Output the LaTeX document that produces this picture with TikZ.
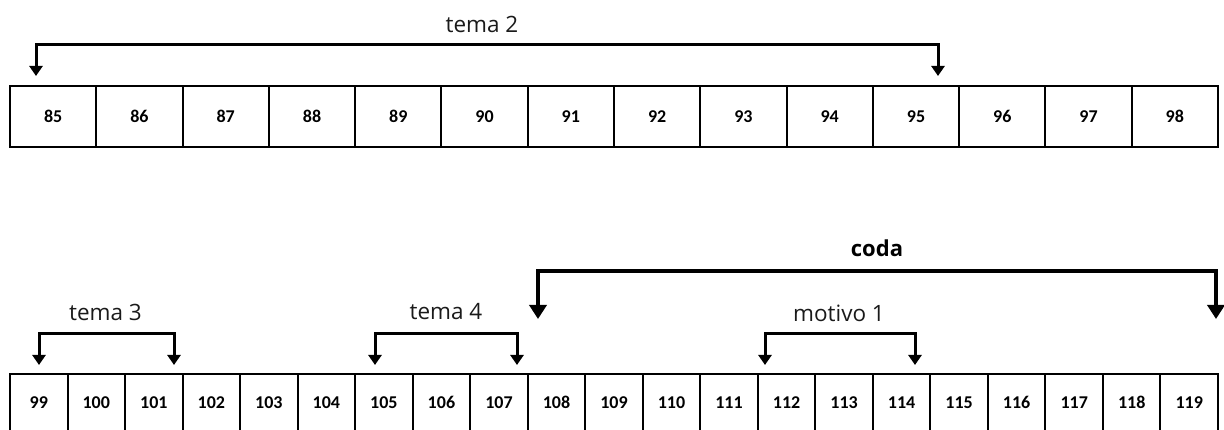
\documentclass[tikz,border=0pt]{standalone}
\usepackage{fontspec}
\setmainfont{Open Sans}
\newfontfamily\numfont{Carlito}[Numbers=Lining]
\usetikzlibrary{arrows.meta,calc}
\definecolor{lbl}{HTML}{1A1A1A}
\tikzset{
  cell/.style={draw=black, line width=2pt, minimum height=#1, inner sep=0pt, outer sep=0pt, text height=11.5pt, text depth=0pt, font=\numfont\bfseries\fontsize{18}{18}\selectfont},
  brk/.style={line width=3pt, {Triangle[width=13pt,length=10pt]}-{Triangle[width=13pt,length=10pt]}},
  bigbrk/.style={line width=3.6pt, {Triangle[width=17pt,length=14pt]}-{Triangle[width=17pt,length=14pt]}},
  lab/.style={anchor=base, text=lbl, inner sep=0pt, font=\fontsize{22.5}{22.5}\selectfont},
}
\begin{document}
\begin{tikzpicture}[x=1pt,y=-1pt]
\useasboundingbox (0,0) rectangle (1224,430);
\clip (0,0) rectangle (1224,430);
% top row 85..98
\foreach \i in {0,...,13}{
  \pgfmathtruncatemacro\n{85+\i}
  \pgfmathsetmacro\xl{10+\i*86.2857}
  \node[cell=61pt, minimum width=86.2857pt, anchor=north west] (b\n) at (\xl,86) {\n};
}
% bottom row 99..119
\foreach \i in {0,...,20}{
  \pgfmathtruncatemacro\n{99+\i}
  \pgfmathsetmacro\xl{10+\i*57.5238}
  \node[cell=58pt, minimum width=57.5238pt, anchor=north west] (b\n) at (\xl,374) {\n};
}
% bracket endpoints
\coordinate (t2a) at (36,76);  \coordinate (t2b) at (938,76);  \coordinate (t2h) at (0,45);
\coordinate (t3a) at (39,365); \coordinate (t3b) at (174,365); \coordinate (t3h) at (0,334);
\coordinate (t4a) at (375,365);\coordinate (t4b) at (517,365); \coordinate (t4h) at (0,334);
\coordinate (m1a) at (765,365);\coordinate (m1b) at (915,365); \coordinate (m1h) at (0,334);
\coordinate (cda) at (538,319);\coordinate (cdb) at (1216,319);\coordinate (cdh) at (0,271);
\draw[brk] (t2a) -- (t2a |- t2h) -- (t2b |- t2h) -- (t2b);
\draw[brk] (t3a) -- (t3a |- t3h) -- (t3b |- t3h) -- (t3b);
\draw[brk] (t4a) -- (t4a |- t4h) -- (t4b |- t4h) -- (t4b);
\draw[brk] (m1a) -- (m1a |- m1h) -- (m1b |- m1h) -- (m1b);
\draw[bigbrk] (cda) -- (cda |- cdh) -- (cdb |- cdh) -- (cdb);
% labels
\node[lab] (lt2) at (482,33) {tema 2};
\node[lab] (lt3) at (105.5,321) {tema 3};
\node[lab] (lt4) at (446,320) {tema 4};
\node[lab] (lm1) at (839,322) {motivo 1};
\node[lab, font=\bfseries\fontsize{22}{22}\selectfont, text=black] (lcd) at (877,257) {coda};
\end{tikzpicture}
\end{document}
